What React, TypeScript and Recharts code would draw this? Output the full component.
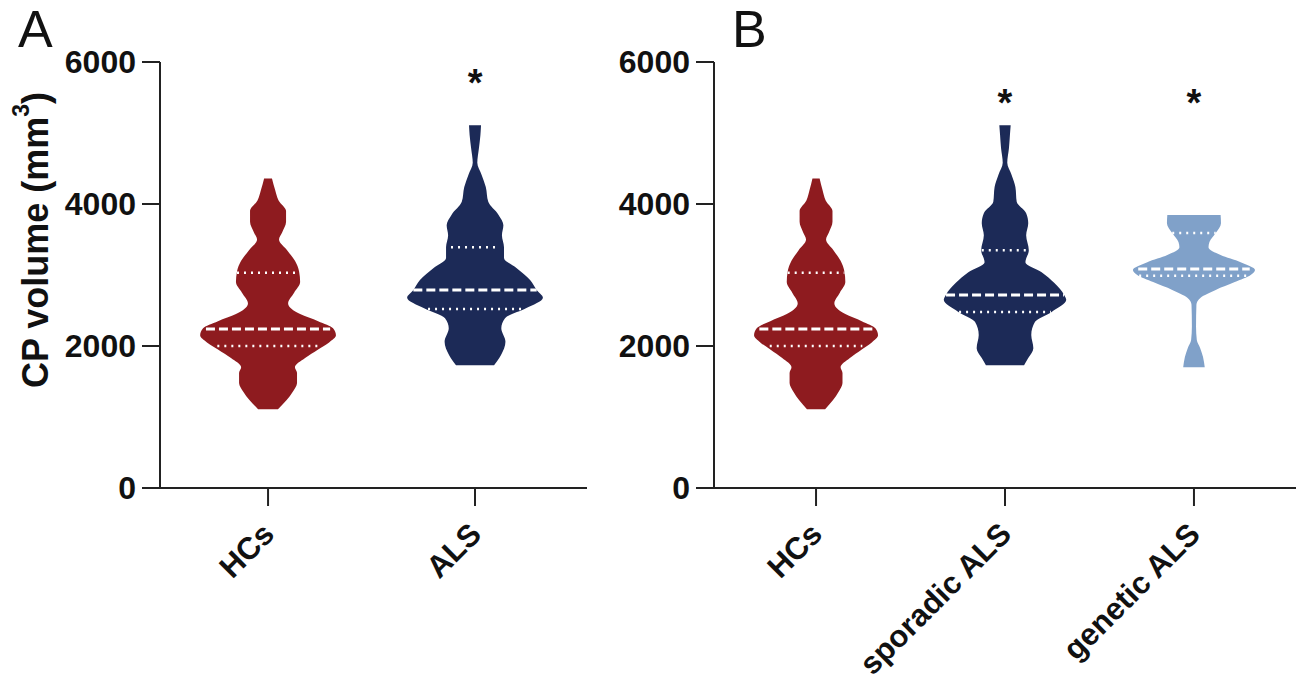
import { ComposedChart, Area, XAxis, YAxis, ReferenceLine, ReferenceDot, Label } from "recharts"

const volumeTicks = [0, 2000, 4000, 6000]

// violin outlines: volume (mm3) and half-width of the density (in category units)
const hcVolume = [1110, 1240, 1350, 1480, 1620, 1700, 1830, 1950, 2050, 2150, 2250, 2350, 2450, 2600, 2750, 2900, 3050, 3200, 3350, 3500, 3600, 3750, 3900, 4050, 4200, 4360]
const hcWidth = [0.048, 0.09, 0.118, 0.14, 0.14, 0.13, 0.179, 0.242, 0.295, 0.328, 0.314, 0.242, 0.155, 0.097, 0.126, 0.155, 0.15, 0.13, 0.092, 0.053, 0.068, 0.087, 0.087, 0.051, 0.034, 0.019]

const alsVolume = [1730, 1870, 2060, 2250, 2390, 2530, 2680, 2790, 2930, 3100, 3240, 3390, 3560, 3700, 3850, 4030, 4240, 4410, 4580, 4790, 4970, 5110]
const alsWidth = [0.092, 0.125, 0.147, 0.127, 0.145, 0.246, 0.328, 0.298, 0.266, 0.2, 0.14, 0.14, 0.13, 0.137, 0.113, 0.064, 0.052, 0.032, 0.011, 0.019, 0.026, 0.029]

const sporadicVolume = [1730, 1830, 1970, 2155, 2340, 2480, 2650, 2720, 2890, 3040, 3180, 3350, 3560, 3730, 3870, 4030, 4240, 4410, 4580, 4790, 4970, 5110]
const sporadicWidth = [0.101, 0.123, 0.15, 0.139, 0.159, 0.247, 0.324, 0.313, 0.26, 0.194, 0.108, 0.126, 0.112, 0.123, 0.112, 0.062, 0.055, 0.035, 0.012, 0.021, 0.026, 0.03]

const geneticVolume = [1700, 1845, 1970, 2085, 2270, 2580, 2680, 2790, 2900, 3000, 3070, 3180, 3280, 3390, 3465, 3590, 3730, 3845]
const geneticWidth = [0.057, 0.048, 0.033, 0.015, 0.011, 0.013, 0.035, 0.115, 0.216, 0.3, 0.323, 0.247, 0.141, 0.077, 0.082, 0.115, 0.143, 0.141]

// quartiles [Q1, median, Q3] and the width of each line
const hcQuart = [2000, 2240, 3030]
const hcQuartWidth = [0.245, 0.3, 0.15]
const alsQuart = [2520, 2790, 3390]
const alsQuartWidth = [0.227, 0.298, 0.116]
const sporadicQuart = [2480, 2720, 3350]
const sporadicQuartWidth = [0.243, 0.312, 0.123]
const geneticQuart = [2990, 3085, 3590]
const geneticQuartWidth = [0.29, 0.295, 0.115]

const namesA = ["HCs", "ALS"]
const namesB = ["HCs", "sporadic ALS", "genetic ALS"]

const RED = "#8E1B1F"
const NAVY = "#1C2A57"
const LIGHT = "#80A1C9"
const AXIS = "#222"
const FONT = "'Liberation Sans', Arial, sans-serif"

type Group = {
  pos: number
  color: string
  volume: number[]
  width: number[]
  quart: number[]
  quartWidth: number[]
  star?: number
}

const makeViolin = (g: Group) =>
  g.volume.map((v, i) => ({ v, r: [g.pos - g.width[i], g.pos + g.width[i]] }))

const SlantTick = ({ x, y, payload, names }: any) => {
  const ax = x + 8
  const ay = y + 28
  return (
    <text
      x={ax}
      y={ay}
      transform={`rotate(-45 ${ax} ${ay})`}
      textAnchor="end"
      fontSize={31}
      fontWeight="bold"
      fill="#111"
      fontFamily={FONT}
    >
      {names[payload.value - 1]}
    </text>
  )
}

const YTitle = ({ viewBox }: any) => {
  const x = viewBox.x + 35
  const y = 240
  return (
    <text
      x={x}
      y={y}
      transform={`rotate(-90 ${x} ${y})`}
      textAnchor="middle"
      dominantBaseline="central"
      fontSize={36}
      fontWeight="bold"
      fill="#111"
      fontFamily={FONT}
    >
      <tspan>CP volume (mm</tspan>
      <tspan dy={-14} fontSize={23}>3</tspan>
      <tspan dy={14}>)</tspan>
    </text>
  )
}

const Star = (p: any) => (
  <text x={p.cx} y={p.cy} textAnchor="middle" fontSize={38} fontWeight="bold" fill="#111" fontFamily={FONT}>
    *
  </text>
)

function ViolinPanel({
  groups,
  names,
  domain,
  width,
  yWidth,
  right,
  title,
}: {
  groups: Group[]
  names: string[]
  domain: [number, number]
  width: number
  yWidth: number
  right: number
  title?: boolean
}) {
  return (
    <ComposedChart
      width={width}
      height={682}
      layout="vertical"
      margin={{ top: 62, right, bottom: 0, left: 0 }}
    >
      <XAxis
        type="number"
        domain={domain}
        ticks={names.map((_, i) => i + 1)}
        interval={0}
        allowDataOverflow
        height={194}
        tickSize={18}
        tickMargin={2}
        axisLine={{ stroke: AXIS, strokeWidth: 2 }}
        tickLine={{ stroke: AXIS, strokeWidth: 2 }}
        tick={<SlantTick names={names} />}
      />
      <YAxis
        type="number"
        dataKey="v"
        domain={[0, 6000]}
        ticks={volumeTicks}
        reversed
        allowDataOverflow
        width={yWidth}
        tickSize={18}
        tickMargin={6}
        axisLine={{ stroke: AXIS, strokeWidth: 2 }}
        tickLine={{ stroke: AXIS, strokeWidth: 2 }}
        tick={{ fontSize: 32, fontWeight: "bold", fill: "#111", fontFamily: FONT }}
      >
        {title && <Label content={<YTitle />} />}
      </YAxis>
      {groups.map((g, gi) => (
        <Area
          key={"v" + gi}
          data={makeViolin(g)}
          dataKey="r"
          type="monotone"
          fill={g.color}
          fillOpacity={1}
          stroke="none"
          dot={false}
          activeDot={false}
          isAnimationActive={false}
        />
      ))}
      {groups.map((g) =>
        g.quart.map((q, qi) => (
          <ReferenceLine
            key={`q${g.pos}-${qi}`}
            segment={[
              { x: g.pos - g.quartWidth[qi], y: q },
              { x: g.pos + g.quartWidth[qi], y: q },
            ]}
            stroke="#fff"
            strokeWidth={qi === 1 ? 3 : 2.5}
            strokeDasharray={qi === 1 ? "9 4" : "2 5"}
          />
        ))
      )}
      {groups
        .filter((g) => g.star != null)
        .map((g) => (
          <ReferenceDot key={"s" + g.pos} x={g.pos} y={g.star} r={0} shape={<Star />} />
        ))}
    </ComposedChart>
  )
}

const groupsA: Group[] = [
  { pos: 1, color: RED, volume: hcVolume, width: hcWidth, quart: hcQuart, quartWidth: hcQuartWidth },
  { pos: 2, color: NAVY, volume: alsVolume, width: alsWidth, quart: alsQuart, quartWidth: alsQuartWidth, star: 5520 },
]

const groupsB: Group[] = [
  { pos: 1, color: RED, volume: hcVolume, width: hcWidth, quart: hcQuart, quartWidth: hcQuartWidth },
  { pos: 2, color: NAVY, volume: sporadicVolume, width: sporadicWidth, quart: sporadicQuart, quartWidth: sporadicQuartWidth, star: 5240 },
  { pos: 3, color: LIGHT, volume: geneticVolume, width: geneticWidth, quart: geneticQuart, quartWidth: geneticQuartWidth, star: 5240 },
]

export default function App() {
  const letter = { position: "absolute" as const, top: -2, fontSize: 52, fontFamily: FONT, color: "#111", lineHeight: "62px" }
  return (
    <div style={{ position: "absolute", left: 0, top: 0, width: 1296, height: 682, background: "#fff", fontFamily: FONT }}>
      <div style={{ position: "absolute", left: 0, top: 0 }}>
        <ViolinPanel groups={groupsA} names={namesA} domain={[0.478, 2.541]} width={600} yWidth={160} right={13} title />
      </div>
      <div style={{ position: "absolute", left: 600, top: 0 }}>
        <ViolinPanel groups={groupsB} names={namesB} domain={[0.46, 3.54]} width={696} yWidth={114} right={0} />
      </div>
      <div style={{ ...letter, left: 18 }}>A</div>
      <div style={{ ...letter, left: 732 }}>B</div>
    </div>
  )
}
